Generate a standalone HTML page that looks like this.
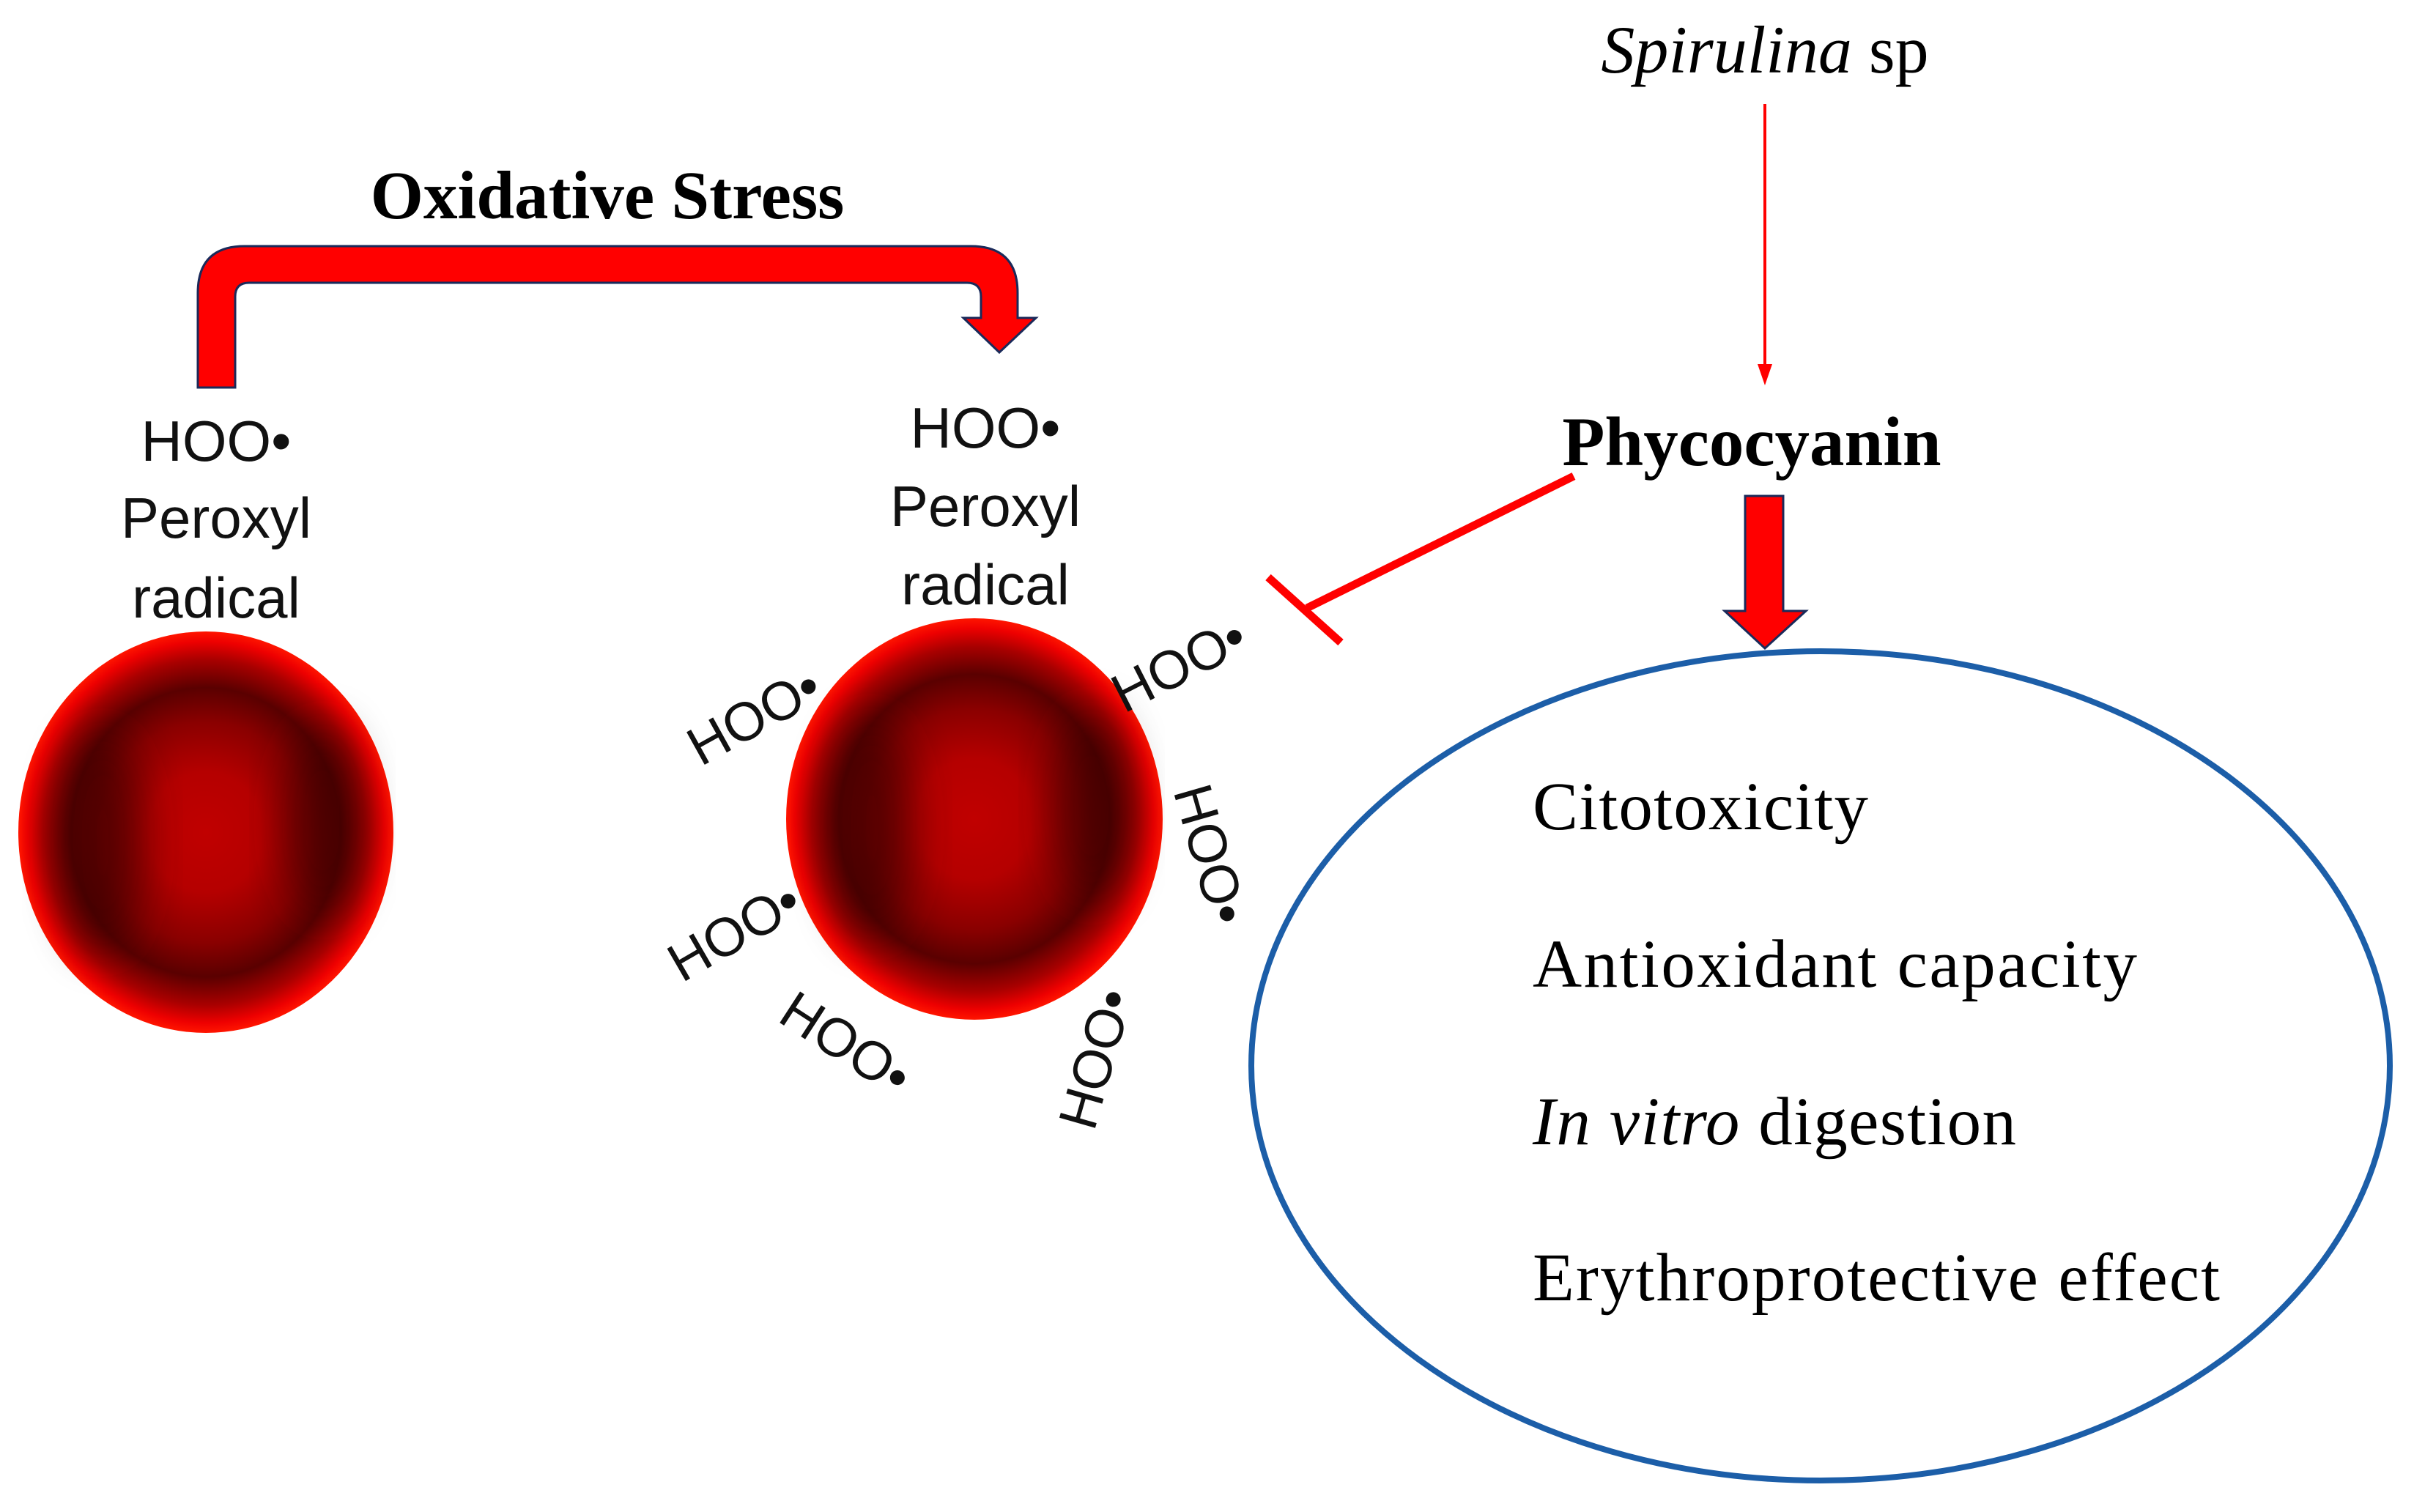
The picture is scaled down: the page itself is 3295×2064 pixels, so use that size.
<!DOCTYPE html>
<html><head><meta charset="utf-8"><style>
html,body{margin:0;padding:0;background:#fff}
svg{display:block}
</style></head><body>
<svg width="3295" height="2064" viewBox="0 0 3295 2064" xmlns="http://www.w3.org/2000/svg">
<defs>
<radialGradient id="rbc" cx="50%" cy="50%" r="50%">
<stop offset="0" stop-color="#c00000"/>
<stop offset="0.3" stop-color="#b50000"/>
<stop offset="0.55" stop-color="#8a0000"/>
<stop offset="0.72" stop-color="#5a0000"/>
<stop offset="0.86" stop-color="#a80000"/>
<stop offset="0.95" stop-color="#ee0000"/>
<stop offset="1" stop-color="#ff1500"/>
</radialGradient>
<filter id="blur" x="-50%" y="-50%" width="200%" height="200%"><feGaussianBlur stdDeviation="30"/></filter>
</defs>
<!-- Oxidative stress -->
<text x="829" y="298" font-family="Liberation Serif, serif" font-weight="bold" font-size="93" text-anchor="middle">Oxidative Stress</text>
<path d="M270,529 L270,400 Q270,336 334,336 L1325,336 Q1389,336 1389,400 L1389,434 L1414,434 L1364,481 L1315,434 L1339,434 L1339,405 Q1339,386 1320,386 L340,386 Q321,386 321,405 L321,529 Z" fill="#ff0000" stroke="#1a2a5a" stroke-width="3"/>
<!-- cells -->
<ellipse cx="281" cy="1136" rx="256" ry="274" fill="url(#rbc)"/>
<ellipse cx="140" cy="1150" rx="55" ry="150" fill="#300000" opacity="0.6" filter="url(#blur)"/>
<ellipse cx="440" cy="1120" rx="50" ry="130" fill="#300000" opacity="0.6" filter="url(#blur)"/>
<ellipse cx="1330" cy="1118" rx="257" ry="274" fill="url(#rbc)"/>
<ellipse cx="1190" cy="1130" rx="55" ry="150" fill="#300000" opacity="0.6" filter="url(#blur)"/>
<ellipse cx="1490" cy="1100" rx="50" ry="130" fill="#300000" opacity="0.6" filter="url(#blur)"/>
<g font-family="Liberation Sans, sans-serif" font-size="78" fill="#111" text-anchor="middle">
<text x="295" y="629">HOO•</text>
<text x="295" y="734">Peroxyl</text>
<text x="295" y="843">radical</text>
<text x="1345" y="611">HOO•</text>
<text x="1345" y="718">Peroxyl</text>
<text x="1345" y="825">radical</text>
<g font-size="74">
<text transform="translate(1029,977) rotate(-29)" y="26">HOO•</text>
<text transform="translate(1609,907) rotate(-27)" y="26">HOO•</text>
<text transform="translate(1653,1166) rotate(74)" y="26">HOO•</text>
<text transform="translate(1002,1271) rotate(-30)" y="26">HOO•</text>
<text transform="translate(1155,1424) rotate(33)" y="26">HOO•</text>
<text transform="translate(1495,1445) rotate(-74)" y="26">HOO•</text>
</g>
</g>
<!-- right -->
<text x="2409" y="99" font-family="Liberation Serif, serif" font-size="92" text-anchor="middle"><tspan font-style="italic">Spirulina</tspan> sp</text>
<line x1="2409" y1="142" x2="2409" y2="500" stroke="#ff0000" stroke-width="4"/>
<polygon points="2399,497 2419,497 2409,526" fill="#ff0000"/>
<text x="2391" y="635" font-family="Liberation Serif, serif" font-weight="bold" font-size="95" text-anchor="middle">Phycocyanin</text>
<line x1="2148" y1="650" x2="1784" y2="830" stroke="#ff0000" stroke-width="11"/>
<line x1="1731" y1="788" x2="1830" y2="877" stroke="#ff0000" stroke-width="11"/>
<polygon points="2382,677 2434,677 2434,834 2465,834 2409,885 2354,834 2382,834" fill="#ff0000" stroke="#1a2a5a" stroke-width="3"/>
<ellipse cx="2485" cy="1455" rx="777" ry="566" fill="none" stroke="#1c5ea8" stroke-width="8"/>
<g font-family="Liberation Serif, serif" font-size="93" fill="#000">
<text x="2092" y="1132" textLength="458">Citotoxicity</text>
<text x="2092" y="1347" textLength="825">Antioxidant capacity</text>
<text x="2092" y="1562" textLength="660"><tspan font-style="italic">In vitro</tspan> digestion</text>
<text x="2092" y="1775" textLength="938">Erythroprotective effect</text>
</g>
</svg>
</body></html>
